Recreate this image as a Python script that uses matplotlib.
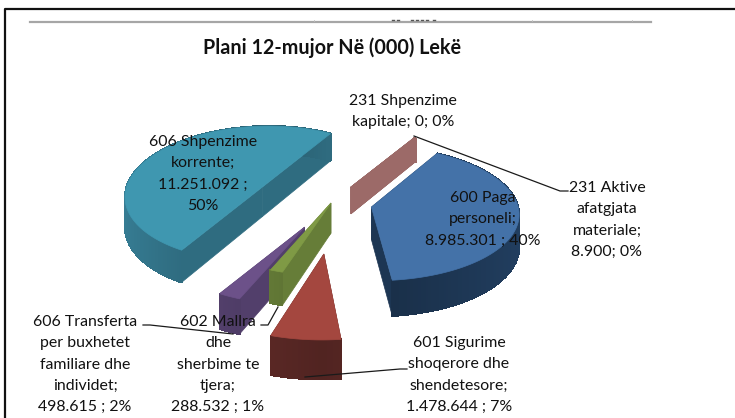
#!/usr/bin/env python
# encoding: utf-8
import numpy as np
import matplotlib
matplotlib.use("Agg")
import matplotlib.pyplot as plt
from matplotlib.patches import Polygon

plt.rcParams['font.family'] = ['Lato', 'DejaVu Sans']

# slices, clockwise from the first one
codes = ["600", "601", "602", "606T", "606S", "231A", "231S"]
values = [8985301, 1478644, 288532, 498615, 11251092, 8900, 0]

title = "Plani 12-mujor Në (000) Lekë"
labels = [
    "600 Paga\npersoneli;\n8.985.301 ; 40%",
    "601 Sigurime\nshoqerore dhe\nshendetesore;\n1.478.644 ; 7%",
    "602 Mallra\ndhe\nsherbime te\ntjera;\n288.532 ; 1%",
    "606 Transferta\nper buxhetet\nfamiliare dhe\nindividet;\n498.615 ; 2%",
    "606 Shpenzime\nkorrente;\n11.251.092 ;\n50%",
    "231 Aktive\nafatgjata\nmateriale;\n8.900; 0%",
    "231 Shpenzime\nkapitale; 0; 0%",
]

# look of each slice: tip on screen, top colour, wall colour, wall height, radius scales
style = {
    "600":  dict(tip=(371, 207), top="#4472a8", wall="#1d3653", h=32, r=1.0, ry=0.9),
    "601":  dict(tip=(325, 250), top="#a4473f", wall="#5f2a27", h=33, r=1.0, ry=0.92),
    "602":  dict(tip=(331, 203), top="#7f9a45", wall="#667d38", h=30, r=1.0, ry=0.9),
    "606T": dict(tip=(306, 226), top="#6c5189", wall="#523f6b", h=31, r=1.0, ry=0.9),
    "606S": dict(tip=(261, 187), top="#3f97b0", wall="#2f6c80", h=30, r=0.95, ry=1.0),
    "231A": dict(tip=(351, 187), top="#9c6a68", wall="#9c6a68", h=27, r=0.97, ry=0.9),
    "231S": dict(tip=(351, 187), top="#9c6a68", wall="#9c6a68", h=27, r=0.97, ry=0.9),
}
# label centre x, first line y
label_pos = [(483, 197), (459, 342), (218, 321), (85, 321), (203, 141), (607, 187), (403, 100)]

CX, CY = 340, 198
K, P, R = 0.5, 0.1, 145.0
START = 30.0


def project(x, y, z=0.0):
    d = 1 + P * y / R
    return CX + x / d, CY - (K * y + z) / d


def draw_slice(ax, t0, t1, st, zo):
    sx, sy = st["tip"]
    x0, y0 = sx - CX, (CY - sy) / K
    th = np.radians(np.linspace(t0, t1, max(2, int(t1 - t0) + 2)))
    xs = x0 + st["r"] * R * np.sin(th)
    ys = y0 + st["ry"] * st["r"] * R * np.cos(th)
    h = st["h"]
    top = [project(x0, y0)] + [project(a, b) for a, b in zip(xs, ys)]
    wall = np.array(matplotlib.colors.to_rgb(st["wall"]))

    # the two flat cut faces
    for a, b in [(xs[0], ys[0]), (xs[-1], ys[-1])]:
        quad = [project(x0, y0), project(a, b), project(a, b, -h), project(x0, y0, -h)]
        ax.add_patch(Polygon(quad, fc=wall, ec=wall, lw=0.5, zorder=zo))
    # round wall, shaded a bit along the arc
    for i in range(len(xs) - 1):
        quad = [project(xs[i], ys[i]), project(xs[i + 1], ys[i + 1]),
                project(xs[i + 1], ys[i + 1], -h), project(xs[i], ys[i], -h)]
        shade = 0.85 + 0.3 * abs(np.sin(th[i]))
        col = np.clip(wall * shade, 0, 1)
        ax.add_patch(Polygon(quad, fc=col, ec=col, lw=0.8, antialiased=False, zorder=zo))
    ax.add_patch(Polygon(top, fc=st["top"], ec=st["top"], lw=0.5, zorder=zo + 0.5))


fig = plt.figure(figsize=(7.35, 4.18), dpi=100)
ax = fig.add_axes([0, 0, 1, 1])
ax.set_xlim(0, 735)
ax.set_ylim(418, 0)
ax.axis("off")

# page frame and the rule above the chart
ax.plot([5, 5, 735], [418, 9, 9], color="#111111", lw=1.6)
ax.plot([30, 651], [21.5, 21.5], color="#a6a6a6", lw=1.6)
for x in [314, 532, 632]:
    ax.plot([x, x], [19.5, 21], color="#c0c0c0", lw=0.6)
for x in [392, 397, 411, 416, 421, 426, 433]:
    ax.plot([x, x + 2], [19.8, 19.8], color="#555555", lw=1.0)

total = float(sum(values))
angles = START + np.cumsum([0] + [v / total * 360 for v in values])
order = {"231S": 1, "231A": 1, "606S": 2, "606T": 3, "602": 4, "600": 5, "601": 6}
for i, code in enumerate(codes):
    draw_slice(ax, angles[i], angles[i + 1], style[code], order[code])

# leader lines
leaders = [
    [(143, 325), (150, 325), (233, 334)],
    [(261, 325), (268, 325), (278, 307)],
    [(407, 369), (400, 369), (305, 377)],
    [(568, 191), (560, 191), (414, 136)],
]
for pts in leaders:
    ax.plot(*zip(*pts), color="#1a1a1a", lw=0.9, zorder=8)

for text, (x, y) in zip(labels, label_pos):
    ax.text(x, y - 6, text, ha="center", va="top", fontsize=11.4,
            linespacing=1.66, color="#111111", zorder=9)

ax.text(332, 48, title, ha="center", va="center", fontsize=14.2,
        fontweight="bold", color="#111111", zorder=9)

fig.savefig("out.png", dpi=100)
